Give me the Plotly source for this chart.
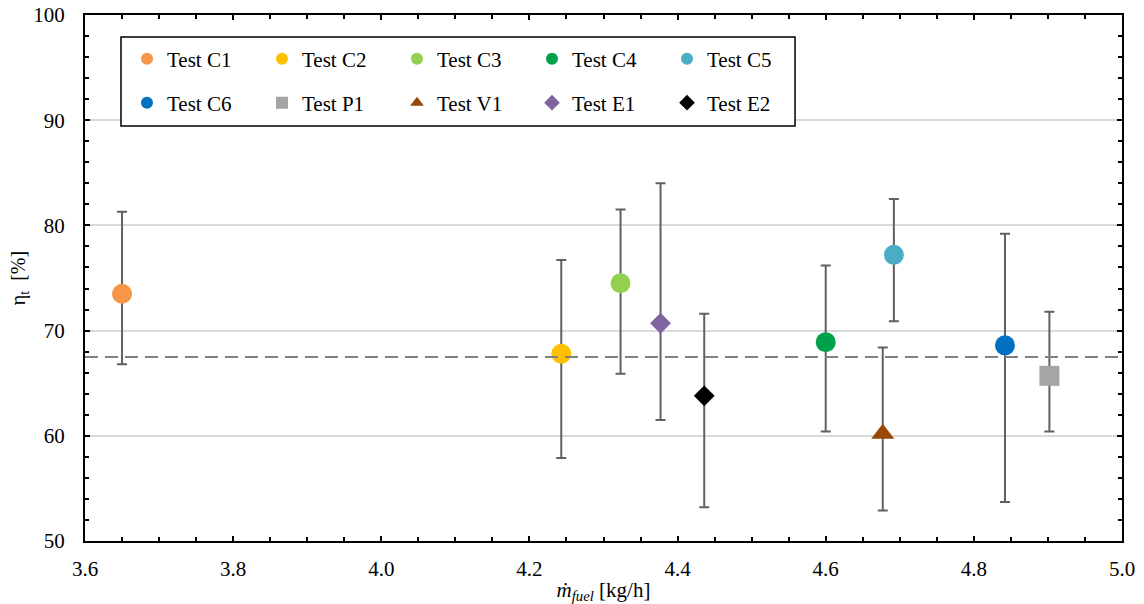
import plotly.graph_objects as go

# ---- data ----
tests = ["Test C1", "Test C2", "Test C3", "Test C4", "Test C5",
         "Test C6", "Test P1", "Test V1", "Test E1", "Test E2"]
m_fuel = [3.65, 4.243, 4.323, 4.60, 4.692, 4.842, 4.902, 4.677, 4.377, 4.436]
eta = [73.5, 67.8, 74.5, 68.9, 77.2, 68.6, 65.7, 60.2, 70.7, 63.8]
eta_hi = [81.3, 76.7, 81.5, 76.2, 82.5, 79.2, 71.8, 68.4, 84.0, 71.6]
eta_lo = [66.8, 57.9, 65.9, 60.4, 70.9, 53.7, 60.4, 52.9, 61.5, 53.2]
colors = ["#F79646", "#FFC000", "#92D050", "#00A14B", "#4BACC6",
          "#0070C0", "#A5A5A5", "#984807", "#8064A2", "#000000"]
symbols = ["circle", "circle", "circle", "circle", "circle",
           "circle", "square", "triangle-up", "diamond", "diamond"]
sizes = [20, 20, 20, 20, 20, 20, 20, 20, 16, 16]
mean_eta = 67.5

FONT = "Liberation Serif"

fig = go.Figure()

# error bars (under the markers)
for i in range(len(tests)):
    fig.add_trace(go.Scatter(
        x=[m_fuel[i]], y=[eta[i]], mode="markers",
        marker=dict(size=1, color="rgba(0,0,0,0)"),
        error_y=dict(type="data", symmetric=False,
                     array=[eta_hi[i] - eta[i]], arrayminus=[eta[i] - eta_lo[i]],
                     color="#606060", thickness=2, width=5),
        showlegend=False, hoverinfo="skip"))

# markers
for i in range(len(tests)):
    fig.add_trace(go.Scatter(
        x=[m_fuel[i]], y=[eta[i]], mode="markers", name=tests[i],
        marker=dict(size=sizes[i], color=colors[i], symbol=symbols[i],
                    line=dict(width=0)),
        legend="legend" if i < 5 else "legend2"))

fig.add_shape(type="line", xref="paper", x0=0, x1=1, yref="y",
              y0=mean_eta, y1=mean_eta,
              line=dict(color="#808080", width=2, dash="13px,7px"), layer="above")

# legend box
fig.add_shape(type="rect", xref="paper", yref="paper",
              x0=0.0347, x1=0.6847, y0=0.789, y1=0.958,
              line=dict(color="black", width=1.5), fillcolor="white", layer="above")

leg_common = dict(orientation="h", xanchor="left", yanchor="middle",
                  bgcolor="rgba(0,0,0,0)", borderwidth=0,
                  font=dict(family=FONT, size=21, color="black"),
                  itemsizing="constant", entrywidth=90, entrywidthmode="pixels",
                  tracegroupgap=0)

tickfont = dict(family=FONT, size=21, color="black")

fig.update_layout(
    width=1144, height=604,
    margin=dict(l=85, r=22, t=15, b=63, autoexpand=False),
    plot_bgcolor="white", paper_bgcolor="white",
    font=dict(family=FONT, size=21, color="black"),
    legend=dict(x=0.0405, y=0.9163, **leg_common),
    legend2=dict(x=0.0405, y=0.8327, **leg_common),
    xaxis=dict(range=[3.6, 5.0], dtick=0.2, tick0=3.6, tickformat=".1f",
               showline=True, linecolor="black", linewidth=2, mirror="ticks",
               ticks="inside", ticklen=5, tickwidth=1.5, tickcolor="black",
               minor=dict(dtick=0.05, ticks="inside", ticklen=4, tickwidth=1.5,
                          tickcolor="black", showgrid=False),
               showgrid=False, zeroline=False, ticklabelstandoff=8,
               tickfont=tickfont, automargin=False,
               title=dict(text="<i>ṁ<sub>fuel</sub></i> [kg/h]", standoff=2,
                          font=dict(family=FONT, size=21))),
    yaxis=dict(range=[50, 100], dtick=10, tick0=50,
               showline=True, linecolor="black", linewidth=2, mirror="ticks",
               ticks="inside", ticklen=5, tickwidth=1.5, tickcolor="black",
               minor=dict(dtick=2, ticks="inside", ticklen=4, tickwidth=1.5,
                          tickcolor="black", showgrid=False),
               showgrid=True, gridcolor="#D9D9D9", gridwidth=1.5,
               zeroline=False, ticklabelstandoff=14,
               tickfont=tickfont, automargin=True,
               title=dict(text="η<sub>t</sub>  [%]", standoff=2,
                          font=dict(family=FONT, size=20))),
)

fig.write_html("out.html")
